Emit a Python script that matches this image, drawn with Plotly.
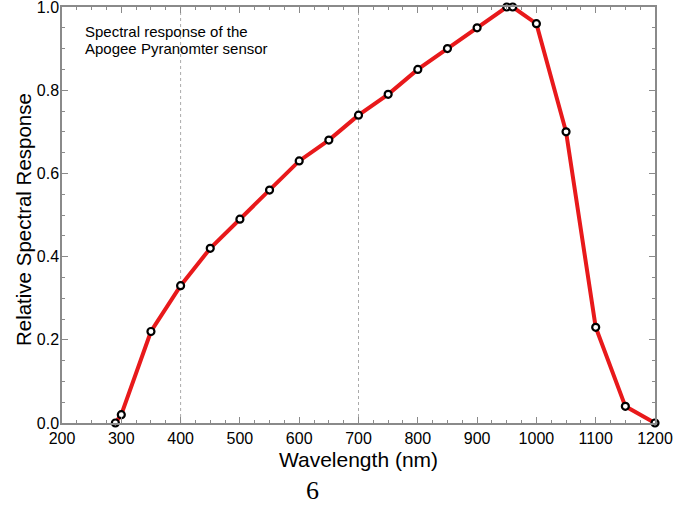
import plotly.graph_objects as go

wavelength = [290, 300, 350, 400, 450, 500, 550, 600, 650, 700, 750, 800,
              850, 900, 950, 960, 1000, 1050, 1100, 1150, 1200]
response = [0.0, 0.02, 0.22, 0.33, 0.42, 0.49, 0.56, 0.63, 0.68, 0.74, 0.79, 0.85,
            0.90, 0.95, 1.0, 1.0, 0.96, 0.70, 0.23, 0.04, 0.0]
ref_lines = [400, 700]
x_ticks = [200, 300, 400, 500, 600, 700, 800, 900, 1000, 1100, 1200]
y_ticks = [0.0, 0.2, 0.4, 0.6, 0.8, 1.0]

FONT = "Liberation Sans, Arial, sans-serif"
AX = "#8a8a8a"

fig = go.Figure()
fig.add_trace(go.Scatter(
    x=wavelength, y=response, mode="lines+markers",
    line=dict(color="#e8191b", width=4),
    marker=dict(symbol="circle", size=7, color="white",
                line=dict(color="black", width=2.2)),
    showlegend=False, cliponaxis=False, hoverinfo="skip",
))

for xv in ref_lines:
    fig.add_shape(type="line", x0=xv, x1=xv, y0=0, y1=1, xref="x", yref="y",
                  line=dict(color="#aaaaaa", width=1, dash="dot"), layer="below")

fig.update_layout(
    width=684, height=508,
    margin=dict(l=62, r=29, t=7, b=85),
    paper_bgcolor="white", plot_bgcolor="white",
    font=dict(family=FONT, color="black", size=15),
    xaxis=dict(
        range=[200, 1200], tickvals=x_ticks, ticks="inside", ticklen=6,
        tickcolor=AX, showline=True, linecolor=AX, linewidth=1.5, mirror="allticks",
        showgrid=False, zeroline=False, automargin=False, ticklabeloverflow="allow",
        minor=dict(dtick=25, ticks="inside", ticklen=3, tickcolor=AX, showgrid=False),
        tickfont=dict(size=16),
        title=dict(text="Wavelength (nm)", font=dict(size=21), standoff=6),
    ),
    yaxis=dict(
        range=[0, 1.0], tickvals=y_ticks, tickformat=".1f", ticks="inside", ticklen=6,
        tickcolor=AX, showline=True, linecolor=AX, linewidth=1.5, mirror="allticks",
        showgrid=False, zeroline=False, automargin=False, ticklabeloverflow="allow",
        ticklabelstandoff=-2,
        minor=dict(dtick=0.05, ticks="inside", ticklen=3, tickcolor=AX, showgrid=False),
        tickfont=dict(size=16),
    ),
    annotations=[
        dict(text="Relative Spectral Response", x=-0.064, y=0.488, xref="paper",
             yref="paper", textangle=-90, xanchor="center", yanchor="middle",
             showarrow=False, font=dict(size=20.5)),
        dict(text="Spectral response of the", x=0.0354, y=0.9423, xref="paper", yref="paper",
             xanchor="left", yanchor="middle", showarrow=False, font=dict(size=15)),
        dict(text="Apogee Pyranomter sensor", x=0.0354, y=0.9014, xref="paper", yref="paper",
             xanchor="left", yanchor="middle", showarrow=False, font=dict(size=15)),
        dict(text="6", x=0.4216, y=-0.202, xref="paper", yref="paper", showarrow=False,
             xanchor="center", yanchor="bottom",
             font=dict(family="Liberation Serif, Times New Roman, serif", size=26)),
    ],
)

fig.write_html("out.html", post_script="document.body.style.margin='0';",
               config={"displayModeBar": False})
